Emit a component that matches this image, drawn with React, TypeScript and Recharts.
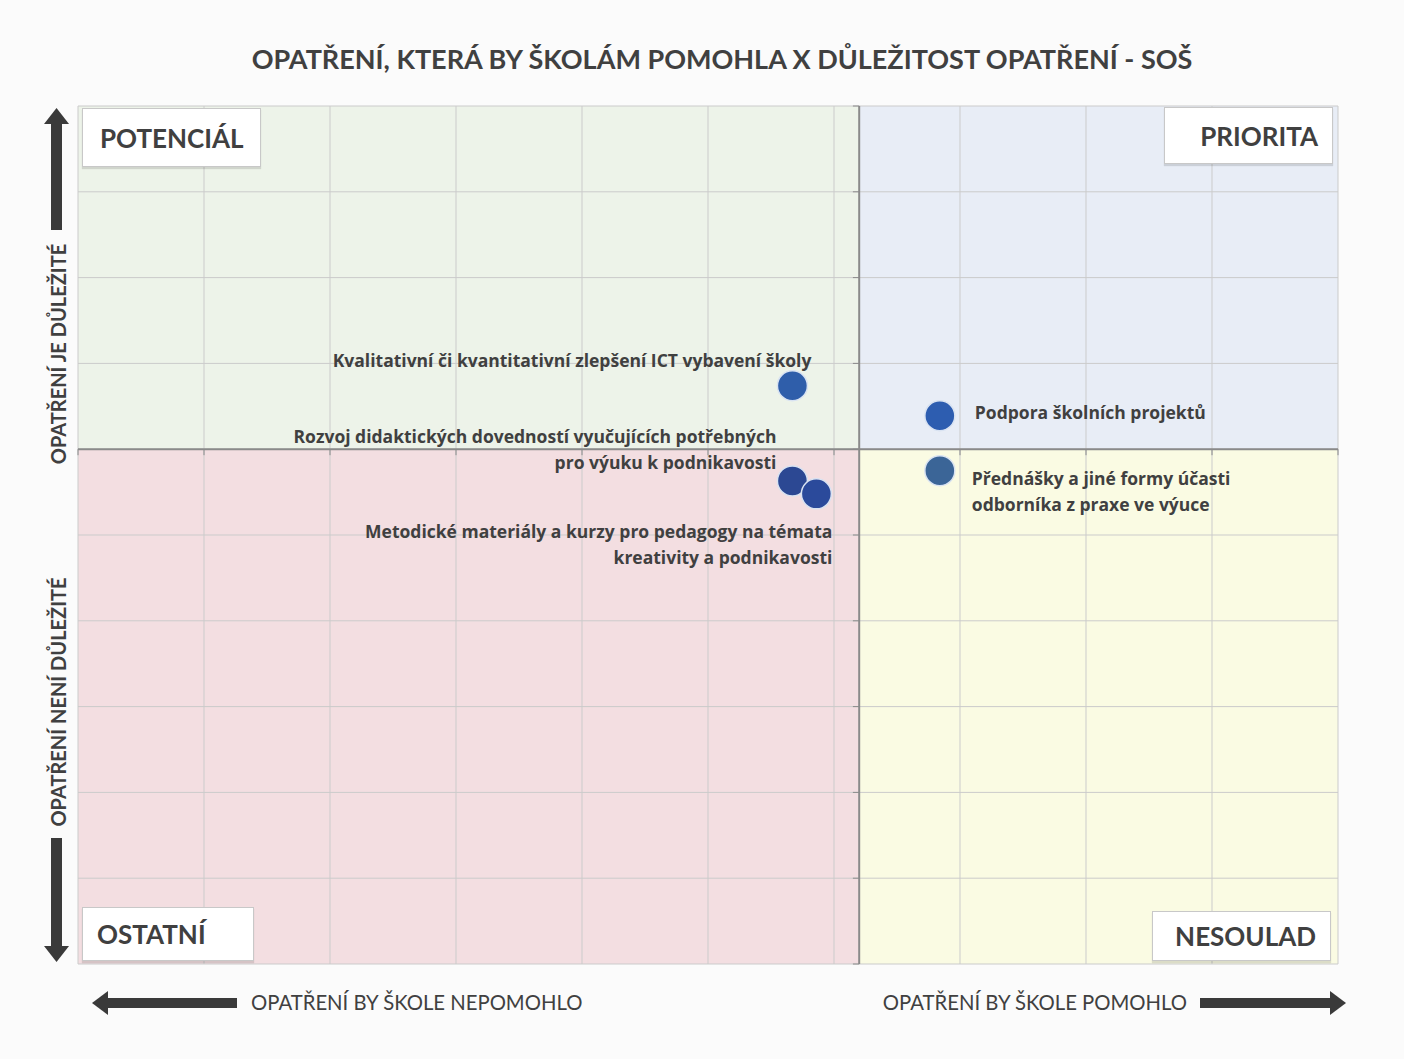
import React from 'react';
import {
  ScatterChart,
  Scatter,
  XAxis,
  YAxis,
  ReferenceArea,
  ReferenceLine,
} from 'recharts';

// ---------- DATA ----------
const MEASURES = [
  'Kvalitativní či kvantitativní zlepšení ICT vybavení školy',
  'Podpora školních projektů',
  'Rozvoj didaktických dovedností vyučujících potřebných\npro výuku k podnikavosti',
  'Metodické materiály a kurzy pro pedagogy na témata\nkreativity a podnikavosti',
  'Přednášky a jiné formy účasti\nodborníka z praxe ve výuce',
];
// x: how much the measure would help the school, y: importance of the measure
const HELPFULNESS = [56.7, 68.4, 56.7, 58.6, 68.4];
const IMPORTANCE = [67.4, 63.9, 56.3, 54.8, 57.5];

const X_TICKS = [0, 10, 20, 30, 40, 50, 60, 70, 80, 90, 100];
const Y_TICKS = [0, 10, 20, 30, 40, 50, 60, 70, 80, 90, 100];
const X_SPLIT = 62;
const Y_SPLIT = 60;

const TITLE = 'OPATŘENÍ, KTERÁ BY ŠKOLÁM POMOHLA X DŮLEŽITOST OPATŘENÍ - SOŠ';
const QUADRANTS = ['POTENCIÁL', 'PRIORITA', 'OSTATNÍ', 'NESOULAD'];
const Y_LABELS = ['OPATŘENÍ JE DŮLEŽITÉ', 'OPATŘENÍ NENÍ DŮLEŽITÉ'];
const X_LABELS = ['OPATŘENÍ BY ŠKOLE NEPOMOHLO', 'OPATŘENÍ BY ŠKOLE POMOHLO'];

// ---------- STYLE ----------
const DOT_COLORS = ['#2f5eaa', '#2d5db0', '#2c4893', '#2b4a9b', '#3b6597'];
const LABEL_LAYOUT = [
  { anchor: 'end', dx: 19, dy: -25 },
  { anchor: 'start', dx: 35, dy: -3 },
  { anchor: 'end', dx: -16, dy: -44 },
  { anchor: 'end', dx: 16, dy: 38 },
  { anchor: 'start', dx: 32, dy: 8 },
];
const FONT = "Lato, 'Open Sans', sans-serif";
const LABEL_FONT = "'Open Sans', Lato, sans-serif";
const TEXT = '#404040';
const GRID = '#cbcbcb';
const AXIS = '#8a8a8a';

const data = MEASURES.map((name, i) => ({
  name,
  x: HELPFULNESS[i],
  y: IMPORTANCE[i],
  i,
}));

const PointShape = (props: any) => {
  const { cx, cy, payload } = props;
  const i = payload.i;
  const lay = LABEL_LAYOUT[i];
  const lines = String(payload.name).split('\n');
  return (
    <g>
      <circle cx={cx} cy={cy} r={15} fill={DOT_COLORS[i]} stroke="#d9e3f2" strokeWidth={1.5} />
      <text
        x={cx + lay.dx}
        y={cy + lay.dy}
        textAnchor={lay.anchor}
        fontFamily={LABEL_FONT}
        fontWeight={700}
        fontSize={17.5}
        fill={TEXT}
      >
        {lines.map((l, k) => (
          <tspan key={k} x={cx + lay.dx} dy={k === 0 ? '0.35em' : 26}>
            {l}
          </tspan>
        ))}
      </text>
    </g>
  );
};

const boxStyle = (extra: React.CSSProperties): React.CSSProperties => ({
  position: 'absolute',
  background: '#ffffff',
  border: '1px solid #c8c8c8',
  boxShadow: '0 2px 1px rgba(0,0,0,0.12)',
  fontFamily: FONT,
  fontWeight: 700,
  fontSize: 26,
  color: TEXT,
  display: 'flex',
  alignItems: 'center',
  boxSizing: 'border-box',
  ...extra,
});

export default function App() {
  return (
    <div
      style={{
        position: 'absolute',
        left: 0,
        top: 0,
        width: 1404,
        height: 1059,
        background: '#fbfbfb',
        overflow: 'hidden',
      }}
    >
      <div
        style={{
          position: 'absolute',
          left: 0,
          width: 1444,
          top: 42,
          textAlign: 'center',
          fontFamily: FONT,
          fontWeight: 700,
          fontSize: 27,
          color: TEXT,
          whiteSpace: 'nowrap',
        }}
      >
        {TITLE}
      </div>

      <div style={{ position: 'absolute', left: 0, top: 0 }}>
        <ScatterChart
          width={1404}
          height={1059}
          margin={{ top: 106, right: 66, bottom: 95, left: 78 }}
        >
          <XAxis type="number" dataKey="x" domain={[0, 100]} ticks={X_TICKS} hide />
          <YAxis type="number" dataKey="y" domain={[0, 100]} ticks={Y_TICKS} hide />
          <ReferenceArea x1={0} x2={X_SPLIT} y1={Y_SPLIT} y2={100} fill="#edf3e9" fillOpacity={1} stroke="none" />
          <ReferenceArea x1={X_SPLIT} x2={100} y1={Y_SPLIT} y2={100} fill="#e8edf6" fillOpacity={1} stroke="none" />
          <ReferenceArea x1={0} x2={X_SPLIT} y1={0} y2={Y_SPLIT} fill="#f3dee1" fillOpacity={1} stroke="none" />
          <ReferenceArea x1={X_SPLIT} x2={100} y1={0} y2={Y_SPLIT} fill="#fafbe3" fillOpacity={1} stroke="none" />
          {X_TICKS.map((t) => (
            <ReferenceLine key={'gx' + t} x={t} stroke={GRID} strokeWidth={1} />
          ))}
          {Y_TICKS.map((t) => (
            <ReferenceLine key={'gy' + t} y={t} stroke={GRID} strokeWidth={1} />
          ))}
          {Y_TICKS.map((t) => (
            <ReferenceLine
              key={'ty' + t}
              segment={[
                { x: X_SPLIT - 0.5, y: t },
                { x: X_SPLIT, y: t },
              ]}
              stroke={AXIS}
              strokeWidth={1}
            />
          ))}
          {X_TICKS.map((t) => (
            <ReferenceLine
              key={'tx' + t}
              segment={[
                { x: t, y: Y_SPLIT },
                { x: t, y: Y_SPLIT - 0.7 },
              ]}
              stroke={AXIS}
              strokeWidth={1}
            />
          ))}
          <ReferenceLine x={X_SPLIT} stroke={AXIS} strokeWidth={2} />
          <ReferenceLine y={Y_SPLIT} stroke={AXIS} strokeWidth={2} />
          <Scatter data={data} shape={PointShape} isAnimationActive={false} />
        </ScatterChart>
      </div>

      {/* quadrant boxes */}
      <div style={boxStyle({ left: 82, top: 108, width: 179, height: 59, paddingLeft: 17 })}>{QUADRANTS[0]}</div>
      <div style={boxStyle({ left: 1164, top: 107, width: 169, height: 57, justifyContent: 'flex-end', paddingRight: 14 })}>{QUADRANTS[1]}</div>
      <div style={boxStyle({ left: 82, top: 907, width: 172, height: 54, paddingLeft: 14 })}>{QUADRANTS[2]}</div>
      <div style={boxStyle({ left: 1152, top: 911, width: 179, height: 50, justifyContent: 'flex-end', paddingRight: 14 })}>{QUADRANTS[3]}</div>

      {/* vertical axis captions */}
      {[354, 702].map((cy, k) => (
        <div
          key={k}
          style={{
            position: 'absolute',
            left: 58,
            top: cy,
            transform: 'translate(-50%, -50%) rotate(-90deg)',
            fontFamily: FONT,
            fontWeight: 700,
            fontSize: 20,
            color: TEXT,
            whiteSpace: 'nowrap',
          }}
        >
          {Y_LABELS[k]}
        </div>
      ))}

      {/* horizontal axis captions */}
      <div
        style={{
          position: 'absolute',
          left: 251,
          top: 990,
          fontFamily: FONT,
          fontWeight: 400,
          fontSize: 20.3,
          color: TEXT,
          whiteSpace: 'nowrap',
        }}
      >
        {X_LABELS[0]}
      </div>
      <div
        style={{
          position: 'absolute',
          right: 1404 - 1187,
          top: 990,
          fontFamily: FONT,
          fontWeight: 400,
          fontSize: 20.3,
          color: TEXT,
          whiteSpace: 'nowrap',
        }}
      >
        {X_LABELS[1]}
      </div>

      {/* arrows */}
      <svg width={1404} height={1059} style={{ position: 'absolute', left: 0, top: 0, pointerEvents: 'none' }}>
        <g fill="#3a3a3a">
          <rect x={51} y={120} width={11} height={110} />
          <polygon points="56.5,108 44,124 69,124" />
          <rect x={51} y={838} width={11} height={112} />
          <polygon points="56.5,962 44,946 69,946" />
          <rect x={104} y={998} width={133} height={10} />
          <polygon points="92,1003 108,991 108,1015" />
          <rect x={1200} y={998} width={132} height={10} />
          <polygon points="1346,1003 1330,991 1330,1015" />
        </g>
      </svg>
    </div>
  );
}
